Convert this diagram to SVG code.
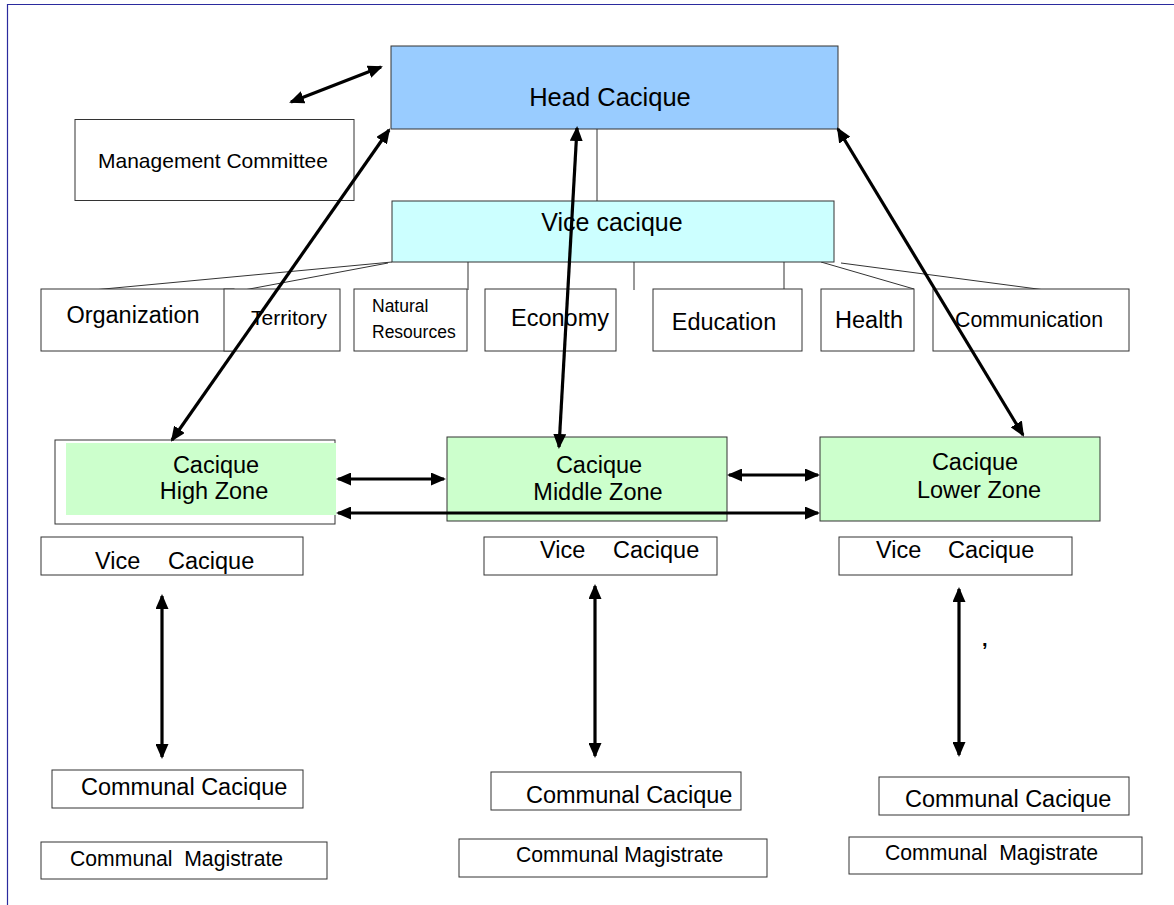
<svg xmlns="http://www.w3.org/2000/svg" width="1174" height="905" viewBox="0 0 1174 905">
<style>
text{font-family:"Liberation Sans",Arial,sans-serif;fill:#000}
.box{fill:#fff;stroke:#333;stroke-width:1}
.thin{stroke:#333;stroke-width:1;fill:none}
.arr{stroke:#000;stroke-width:3.2;fill:none;marker-start:url(#ah);marker-end:url(#ah)}
.frame{stroke:#2b2b9e;stroke-width:1.2;fill:none}
</style>
<defs>
<marker id="ah" viewBox="0 0 15 13" markerWidth="15" markerHeight="13" refX="13" refY="6.5" orient="auto-start-reverse" markerUnits="userSpaceOnUse">
<path d="M0,0 L15,6.5 L0,13 z" fill="#000"/>
</marker>
</defs>
<g id="frame">
<line class="frame" x1="7" y1="4.5" x2="1174" y2="4.5"/>
<line class="frame" x1="7.5" y1="4" x2="7.5" y2="905"/>
</g>
<g id="connectors">
<line class="thin" x1="597" y1="124" x2="597" y2="201"/>
<line class="thin" x1="392" y1="262" x2="93" y2="290"/>
<line class="thin" x1="388" y1="263" x2="244" y2="290"/>
<line class="thin" x1="468" y1="262" x2="468" y2="290"/>
<line class="thin" x1="634" y1="262" x2="634" y2="290"/>
<line class="thin" x1="784" y1="262" x2="784" y2="290"/>
<line class="thin" x1="821" y1="262" x2="914" y2="289"/>
<line class="thin" x1="841" y1="263" x2="1045" y2="290"/>
</g>
<g id="head-cacique">
<rect x="391" y="46" width="447" height="83" fill="#99ccff" stroke="#333" stroke-width="1"/>
<text x="610" y="106" font-size="25.5" text-anchor="middle">Head Cacique</text>
</g>
<g id="vice-cacique">
<rect x="392" y="201" width="442" height="61" fill="#ccffff" stroke="#333" stroke-width="1"/>
<text x="612" y="231" font-size="25" text-anchor="middle">Vice cacique</text>
</g>
<g id="management-committee">
<rect class="box" x="75" y="119.5" width="279" height="81"/>
<text x="98" y="167.5" font-size="21">Management Committee</text>
</g>
<g id="organization">
<rect class="box" x="41" y="289" width="193" height="62"/>
<text x="133" y="323" font-size="23.5" text-anchor="middle">Organization</text>
</g>
<g id="territory">
<rect class="box" x="224" y="289" width="116" height="62"/>
<text x="289" y="325" font-size="21" text-anchor="middle">Territory</text>
</g>
<g id="natural-resources">
<rect class="box" x="354" y="289" width="113" height="62"/>
<text x="372" y="312" font-size="17.5">Natural</text>
<text x="372" y="338" font-size="17.5">Resources</text>
</g>
<g id="economy">
<rect class="box" x="485" y="289" width="131" height="62"/>
<text x="560" y="326" font-size="23.5" text-anchor="middle">Economy</text>
</g>
<g id="education">
<rect class="box" x="653" y="289" width="149" height="62"/>
<text x="724" y="330" font-size="23.5" text-anchor="middle">Education</text>
</g>
<g id="health">
<rect class="box" x="821" y="289" width="93" height="62"/>
<text x="869" y="328" font-size="23.5" text-anchor="middle">Health</text>
</g>
<g id="communication">
<rect class="box" x="933" y="289" width="196" height="62"/>
<text x="1029" y="327" font-size="21.3" text-anchor="middle">Communication</text>
</g>
<g id="cacique-high-zone">
<rect class="box" x="55" y="440" width="280" height="84"/>
<rect x="66" y="443" width="270" height="72" fill="#ccffcc"/>
<text x="216" y="473" font-size="23.5" text-anchor="middle">Cacique</text>
<text x="214" y="499" font-size="23.5" text-anchor="middle">High Zone</text>
</g>
<g id="cacique-middle-zone">
<rect x="447" y="437" width="280" height="84" fill="#ccffcc" stroke="#333" stroke-width="1"/>
<text x="599" y="473" font-size="23.5" text-anchor="middle">Cacique</text>
<text x="598" y="500" font-size="23.5" text-anchor="middle">Middle Zone</text>
</g>
<g id="cacique-lower-zone">
<rect x="820" y="437" width="280" height="84" fill="#ccffcc" stroke="#333" stroke-width="1"/>
<text x="975" y="470" font-size="23.5" text-anchor="middle">Cacique</text>
<text x="979" y="498" font-size="23.5" text-anchor="middle">Lower Zone</text>
</g>
<g id="vice-cacique-high">
<rect class="box" x="41" y="537" width="262" height="38"/>
<text y="569" font-size="23.5"><tspan x="95">Vice</tspan><tspan x="168">Cacique</tspan></text>
</g>
<g id="vice-cacique-middle">
<rect class="box" x="484" y="537" width="233" height="38"/>
<text y="558" font-size="23.5"><tspan x="540">Vice</tspan><tspan x="613">Cacique</tspan></text>
</g>
<g id="vice-cacique-lower">
<rect class="box" x="839" y="537" width="233" height="38"/>
<text y="558" font-size="23.5"><tspan x="876">Vice</tspan><tspan x="948">Cacique</tspan></text>
</g>
<g id="communal-cacique-high">
<rect class="box" x="52" y="770" width="251" height="38"/>
<text x="81" y="795" font-size="23.5">Communal Cacique</text>
</g>
<g id="communal-cacique-middle">
<rect class="box" x="491" y="772" width="250" height="38"/>
<text x="526" y="803" font-size="23.5">Communal Cacique</text>
</g>
<g id="communal-cacique-lower">
<rect class="box" x="879" y="777" width="250" height="38"/>
<text x="905" y="807" font-size="23.5">Communal Cacique</text>
</g>
<g id="communal-magistrate-high">
<rect class="box" x="41" y="842" width="286" height="37"/>
<text x="70" y="866" font-size="21.2" xml:space="preserve">Communal  Magistrate</text>
</g>
<g id="communal-magistrate-middle">
<rect class="box" x="459" y="839" width="308" height="38"/>
<text x="516" y="862" font-size="21.2">Communal Magistrate</text>
</g>
<g id="communal-magistrate-lower">
<rect class="box" x="849" y="837" width="293" height="37"/>
<text x="885" y="860" font-size="21.2" xml:space="preserve">Communal  Magistrate</text>
</g>
<g id="comma">
<text x="982" y="646" font-size="20" font-weight="bold">,</text>
</g>
<g id="arrows">
<line class="arr" x1="291" y1="102" x2="381" y2="67"/>
<line class="arr" x1="389" y1="130" x2="172" y2="440"/>
<line class="arr" x1="577" y1="128" x2="559" y2="447"/>
<line class="arr" x1="838" y1="129" x2="1023" y2="435"/>
<line class="arr" x1="338" y1="479" x2="444" y2="479"/>
<line class="arr" x1="729" y1="475" x2="818" y2="475"/>
<line class="arr" x1="338" y1="513" x2="818" y2="513"/>
<line class="arr" x1="162" y1="596" x2="162" y2="757"/>
<line class="arr" x1="595" y1="586" x2="595" y2="756"/>
<line class="arr" x1="959" y1="589" x2="959" y2="755"/>
</g>
</svg>
